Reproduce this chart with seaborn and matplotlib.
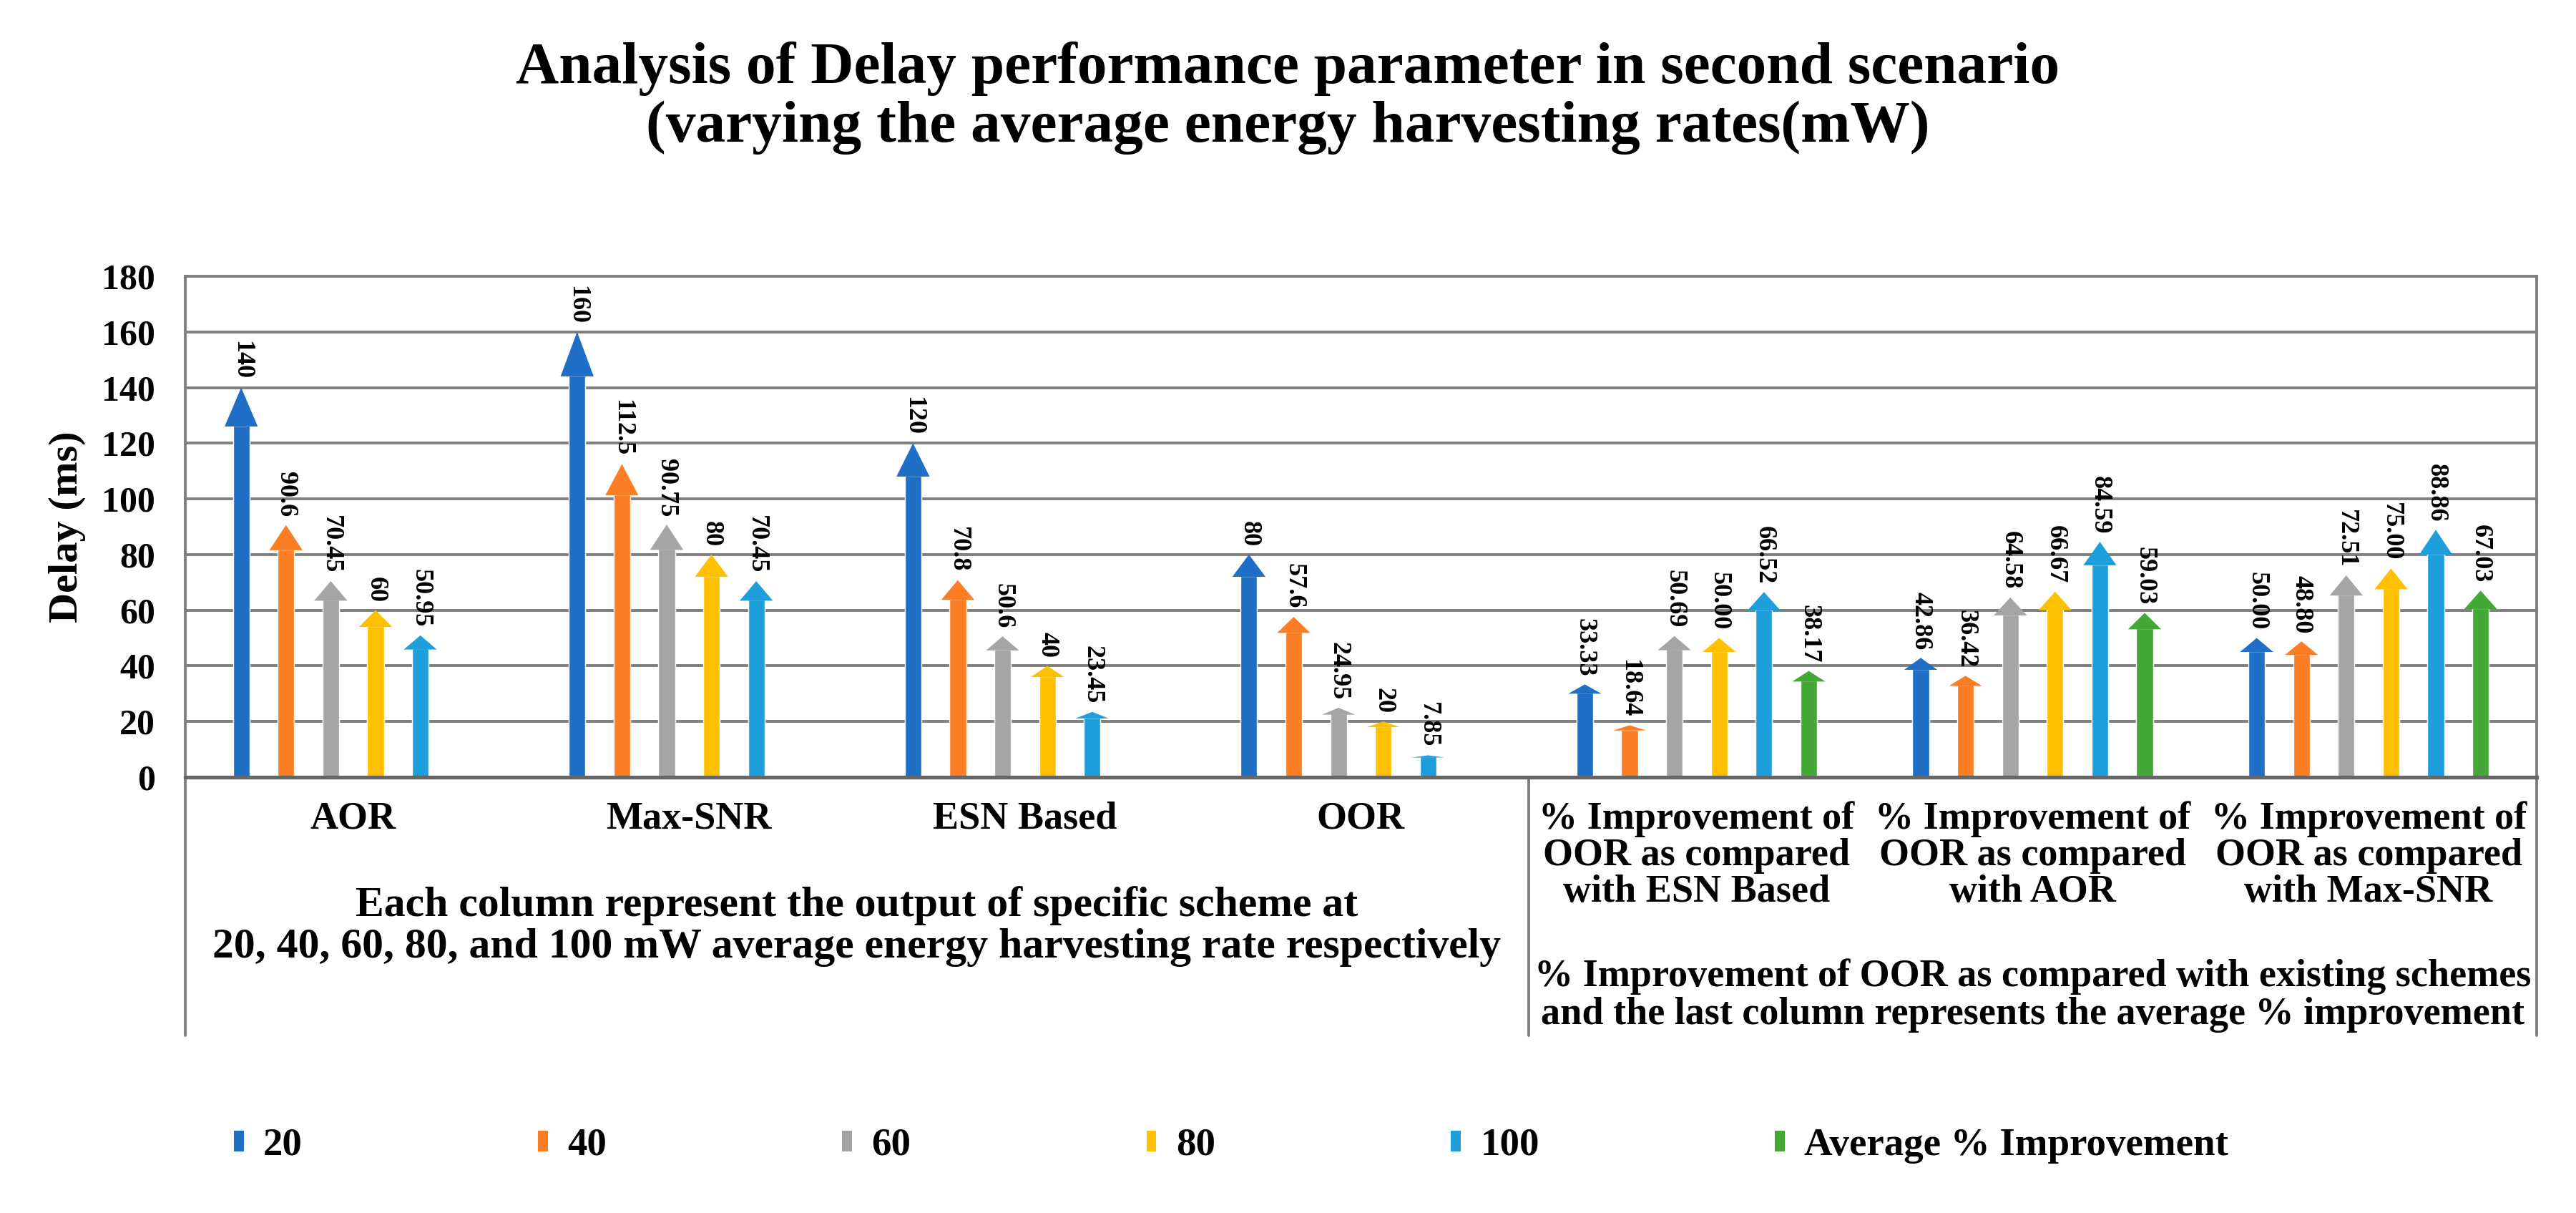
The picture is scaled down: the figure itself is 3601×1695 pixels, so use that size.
import numpy as np
import pandas as pd
import seaborn as sns
import matplotlib.pyplot as plt
from matplotlib.patches import Polygon, Patch

# Chart data
categories = ["AOR", "Max-SNR", "ESN Based", "OOR",
              "% Improvement of\nOOR as compared\nwith ESN Based",
              "% Improvement of\nOOR as compared\nwith AOR",
              "% Improvement of\nOOR as compared\nwith Max-SNR"]
series = ["20", "40", "60", "80", "100", "Average % Improvement"]
colors = ["#1F6FC6", "#FB7E25", "#A5A5A5", "#FFC000", "#1E9FDB", "#43A835"]

aor = [140, 90.6, 70.45, 60, 50.95]
max_snr = [160, 112.5, 90.75, 80, 70.45]
esn_based = [120, 70.8, 50.6, 40, 23.45]
oor = [80, 57.6, 24.95, 20, 7.85]
imp_esn = [33.33, 18.64, 50.69, 50.00, 66.52, 38.17]
imp_aor = [42.86, 36.42, 64.58, 66.67, 84.59, 59.03]
imp_maxsnr = [50.00, 48.80, 72.51, 75.00, 88.86, 67.03]

yticks = list(range(0, 181, 20))

title = ("Analysis of Delay performance parameter in second scenario\n"
         "(varying the average energy harvesting rates(mW)")
left_note = ("Each column represent the output of specific scheme at\n"
             "20, 40, 60, 80, and 100 mW average energy harvesting rate respectively")
right_note = ("% Improvement of OOR as compared with existing schemes\n"
              "and the last column represents the average % improvement")

# Long-form table for seaborn
rows = []
for cat, vals in zip(categories, [aor, max_snr, esn_based, oor, imp_esn, imp_aor, imp_maxsnr]):
    for s, v in zip(series, vals):
        rows.append({"category": cat, "series": s, "delay": v})
df = pd.DataFrame(rows)

sns.set_style("white")
plt.rcParams["font.family"] = ["Liberation Serif", "DejaVu Serif"]
plt.rcParams["font.weight"] = "bold"
plt.rcParams["text.color"] = "black"
plt.rcParams["axes.labelcolor"] = "black"
plt.rcParams["xtick.color"] = "black"
plt.rcParams["ytick.color"] = "black"

grid_col = "#7f7f7f"

fig, ax = plt.subplots(figsize=(36.01, 16.95), dpi=100)
fig.subplots_adjust(left=0.0719, right=0.9847, bottom=0.3593, top=0.7723)

sns.barplot(data=df, x="category", y="delay", hue="series",
            order=categories, hue_order=series,
            palette=dict(zip(series, colors)), saturation=1,
            width=0.8, gap=0.63, errorbar=None, legend=False, ax=ax)

# Arrow heads + value labels
for container in ax.containers:
    for bar in container:
        h = bar.get_height()
        if not np.isfinite(h) or h <= 0:
            continue
        cx = bar.get_x() + bar.get_width() / 2
        cat_idx = int(round(cx))
        txt = f"{h:g}" if cat_idx < 4 else f"{h:.2f}"
        ax.annotate(txt, (cx, h), xytext=(0, 8), textcoords="offset points",
                    rotation=270, ha="center", va="bottom", fontsize=26,
                    fontweight="bold", color="black")
        head = 0.1 * h
        hw = bar.get_width()
        ax.add_patch(Polygon([[cx - hw, h - head], [cx + hw, h - head], [cx, h]],
                             closed=True, facecolor=bar.get_facecolor(),
                             edgecolor="none", zorder=bar.get_zorder()))
        bar.set_height(h - head + 0.3)

# Axes styling
ax.set_xlim(-0.5, 6.5)
ax.set_ylim(0, 180)
ax.set_yticks(yticks)
ax.set_xlabel(None)
ax.set_ylabel("Delay (ms)", fontsize=42, fontweight="bold", labelpad=16)
ax.tick_params(axis="y", length=0, pad=30, labelsize=36)
ax.tick_params(axis="x", length=0, pad=24, labelsize=39)
for t in ax.get_xticklabels():
    t.set_linespacing(1.02)
    t.set_multialignment("center")
ax.yaxis.grid(True, color=grid_col, linewidth=2.8)
ax.set_axisbelow(True)
for side in ["top", "left", "right"]:
    ax.spines[side].set_color(grid_col)
    ax.spines[side].set_linewidth(2.8)
ax.spines["bottom"].set_color("#666666")
ax.spines["bottom"].set_linewidth(3.8)

# Table-like area under the x axis
trans = ax.get_xaxis_transform()
for xv in [-0.5, 3.5, 6.5]:
    ax.plot([xv, xv], [0, -0.516], transform=trans, color=grid_col,
            lw=2.8, clip_on=False)
ax.text(1.5, -0.298, left_note, transform=trans, ha="center", va="center",
        fontsize=43, fontweight="bold", linespacing=1.08)
ax.text(5.0, -0.436, right_note, transform=trans, ha="center", va="center",
        fontsize=39, fontweight="bold", linespacing=1.1)

fig.suptitle(title, x=0.5, y=1 - 137 / 1695, va="center", fontsize=60,
             fontweight="bold", linespacing=1.13)

handles = [Patch(facecolor=c, edgecolor="none") for c in colors]
fig.legend(handles, series, loc="center left",
           bbox_to_anchor=(327 / 3601, 1 - 1601 / 1695), ncol=6, frameon=False,
           fontsize=39.5, handlelength=0.25, handleheight=0.45, handletextpad=0.5,
           columnspacing=6.0, borderaxespad=0, borderpad=0)

fig.savefig("out.png", dpi=100, facecolor="white")
